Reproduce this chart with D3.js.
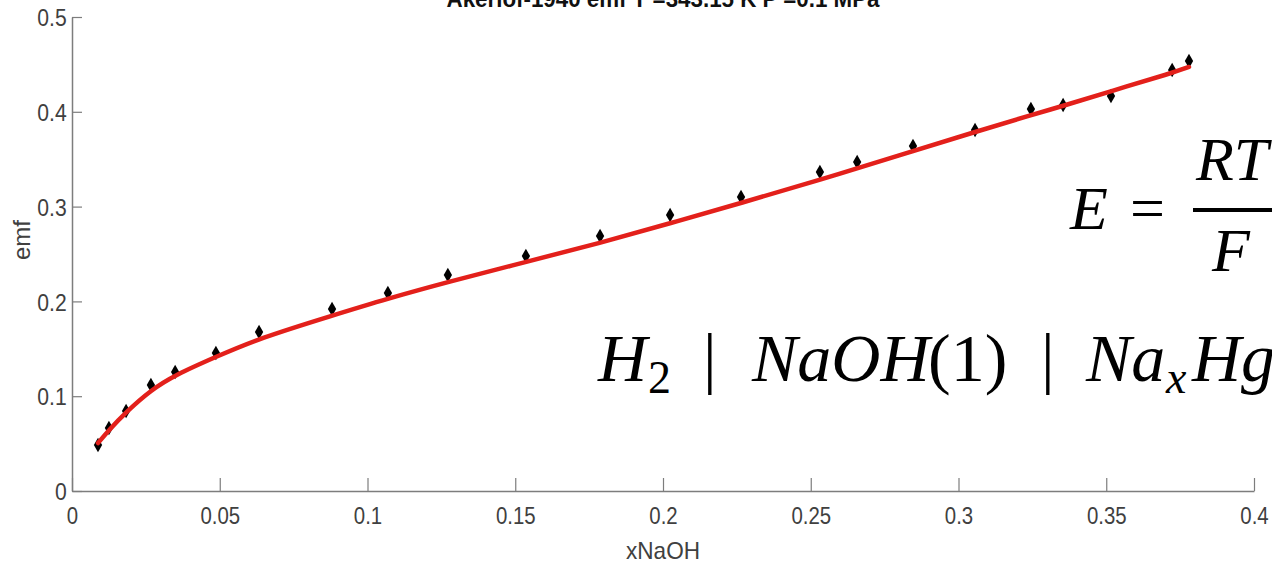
<html>
<head>
  <title>emf</title>
  <script src="https://cdn.jsdelivr.net/npm/d3@7"></script>
  <style>
    body { margin: 0; background: #fff; }
    svg text { font-family: "Liberation Sans", Arial, sans-serif; }
    svg text.eq { font-family: "Liberation Serif", "DejaVu Serif", serif; fill: #000; }
  </style>
</head>
<body>
<div id="chart"></div>
<script>
// measured points (xNaOH, emf)
var xNaOH = [0.0088, 0.0125, 0.0183, 0.0267, 0.0349, 0.0487, 0.0633, 0.0880, 0.1069, 0.1272,
             0.1536, 0.1787, 0.2024, 0.2264, 0.2531, 0.2657, 0.2846, 0.3056, 0.3245, 0.3354,
             0.3516, 0.3723, 0.3780];
var emf = [0.0485, 0.0665, 0.0844, 0.1118, 0.1255, 0.1456, 0.1677, 0.1920, 0.2089, 0.2278,
           0.2479, 0.2690, 0.2911, 0.3101, 0.3365, 0.3470, 0.3639, 0.3808, 0.4030, 0.4072,
           0.4167, 0.4441, 0.4536];

// fitted curve
var fitX = [0.0088, 0.0125, 0.0183, 0.0267, 0.0349, 0.0487, 0.0633, 0.0880, 0.1069, 0.1272,
            0.1536, 0.1787, 0.2027, 0.2264, 0.2531, 0.2802, 0.3056, 0.3245, 0.3354, 0.3516,
            0.3723, 0.3780];
var fitEmf = [0.0506, 0.0643, 0.0833, 0.1065, 0.1224, 0.1415, 0.1610, 0.1850, 0.2030, 0.2205,
              0.2416, 0.2616, 0.2827, 0.3038, 0.3281, 0.3544, 0.3787, 0.3966, 0.4061, 0.4219,
              0.4409, 0.4473];

var xTicks = [0, 0.05, 0.1, 0.15, 0.2, 0.25, 0.3, 0.35, 0.4];
var xTickLabels = ["0", "0.05", "0.1", "0.15", "0.2", "0.25", "0.3", "0.35", "0.4"];
var yTicks = [0, 0.1, 0.2, 0.3, 0.4, 0.5];
var yTickLabels = ["0", "0.1", "0.2", "0.3", "0.4", "0.5"];

var titleText = "Akerlof-1940 emf  T =343.15 K P =0.1 MPa";

var W = 1272, H = 564;
var mLeft = 72, mRight = 1254, mTop = 17, mBottom = 491;

var svg = d3.select("#chart").append("svg")
  .attr("width", W).attr("height", H);

var x = d3.scaleLinear().domain([0, 0.4]).range([mLeft, mRight]);
var y = d3.scaleLinear().domain([0, 0.5]).range([mBottom, mTop]);

var axisCol = "#7d7d7d", labCol = "#404040";

var gx = svg.append("g")
  .attr("transform", "translate(0," + mBottom + ")")
  .call(d3.axisBottom(x).tickValues(xTicks)
    .tickFormat(function(d, i) { return xTickLabels[i]; })
    .tickSizeInner(-13).tickSizeOuter(0).tickPadding(16));

var gy = svg.append("g")
  .attr("transform", "translate(" + mLeft + ",0)")
  .call(d3.axisLeft(y).tickValues(yTicks)
    .tickFormat(function(d, i) { return yTickLabels[i]; })
    .tickSizeInner(-10).tickSizeOuter(0).tickPadding(6));

[gx, gy].forEach(function(g) {
  g.select(".domain").attr("stroke", axisCol).attr("stroke-width", 1.5);
  g.selectAll(".tick line").attr("stroke", axisCol).attr("stroke-width", 1.2);
  g.selectAll(".tick text")
    .attr("fill", labCol)
    .style("font-size", "24px")
    .style("font-family", "'Liberation Sans', Arial, sans-serif");
});
gx.selectAll(".tick text").attr("transform", "scale(0.85,1)");
gy.selectAll(".tick text").attr("transform", "scale(0.88,1)").attr("dy", "0.36em");

// axis labels
svg.append("text")
  .attr("x", (mLeft + mRight) / 2).attr("y", 559)
  .attr("text-anchor", "middle")
  .attr("fill", labCol)
  .style("font-size", "24px")
  .attr("textLength", 74).attr("lengthAdjust", "spacingAndGlyphs")
  .text("xNaOH");

svg.append("text")
  .attr("transform", "translate(30,240) rotate(-90)")
  .attr("text-anchor", "middle")
  .attr("fill", labCol)
  .style("font-size", "24px")
  .text("emf");

// title, cut off at the top edge
svg.append("text")
  .attr("x", (mLeft + mRight) / 2).attr("y", 7)
  .attr("text-anchor", "middle")
  .attr("fill", "#111")
  .style("font-size", "23px").style("font-weight", "bold")
  .attr("textLength", 433).attr("lengthAdjust", "spacingAndGlyphs")
  .text(titleText);

// data markers
var pts = xNaOH.map(function(d, i) { return [d, emf[i]]; });
svg.append("g").selectAll("path")
  .data(pts)
  .enter()
  .append("path")
  .attr("d", d3.symbol().type(d3.symbolDiamond).size(60))
  .attr("transform", function(d) { return "translate(" + x(d[0]) + "," + y(d[1]) + ")"; })
  .attr("fill", "#000");

// fit line drawn over the markers
var fit = fitX.map(function(d, i) { return [d, fitEmf[i]]; });
svg.append("path")
  .datum(fit)
  .attr("fill", "none")
  .attr("stroke", "#e3201b")
  .attr("stroke-width", 4.5)
  .attr("stroke-linecap", "round")
  .attr("d", d3.line()
    .x(function(d) { return x(d[0]); })
    .y(function(d) { return y(d[1]); })
    .curve(d3.curveBasis));

// equation overlay
function eqText(px, py, size, italic, s) {
  svg.append("text").attr("class", "eq")
    .attr("x", px).attr("y", py)
    .style("font-size", size + "px")
    .style("font-style", italic ? "italic" : "normal")
    .text(s);
}
eqText(1070, 229, 62, true, "E");
eqText(1130, 229, 62, false, "=");
svg.append("rect").attr("x", 1193).attr("y", 208).attr("width", 90).attr("height", 4).attr("fill", "#000");
eqText(1196, 180, 62, true, "RT");
eqText(1212, 271, 62, true, "F");

var l2 = 381;
eqText(598, l2, 68, true, "H");
eqText(648, l2 + 12, 46, false, "2");
eqText(703, l2, 68, false, "|");
eqText(752, l2, 68, true, "NaOH");
eqText(928, l2, 68, false, "(1)");
eqText(1041, l2, 68, false, "|");
eqText(1086, l2, 68, true, "Na");
eqText(1166, l2 + 12, 46, true, "x");
eqText(1192, l2, 68, true, "Hg");
</script>
</body>
</html>
